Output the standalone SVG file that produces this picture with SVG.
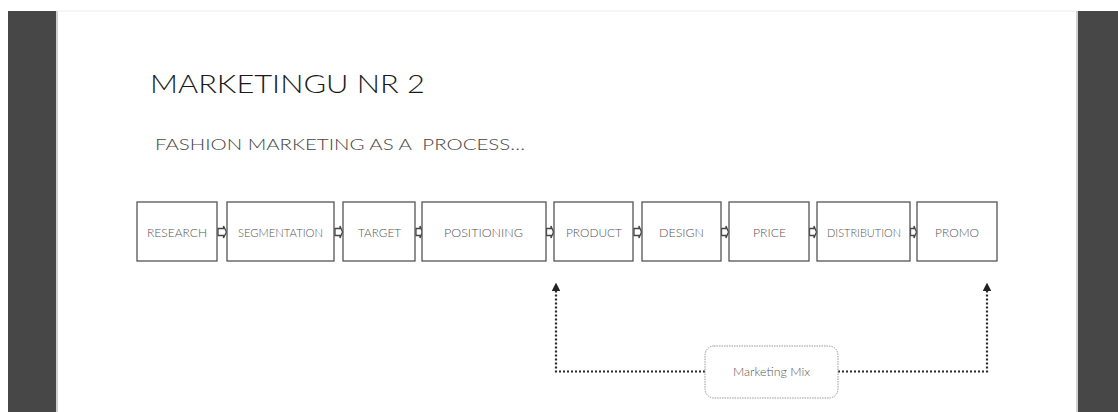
<svg xmlns="http://www.w3.org/2000/svg" width="1118" height="412" viewBox="0 0 1118 412">
<defs>
<style>
.bar{fill:#474747}
.box{fill:#fff;stroke:#555;stroke-width:1.3}
.lbl{font-family:"Lato","Open Sans","Liberation Sans",sans-serif;font-size:12px;font-weight:300;fill:#555;text-anchor:middle}
.ba{fill:#fff;stroke:#444;stroke-width:1.3;stroke-linejoin:miter}
.dot{fill:none;stroke:#2a2a2a;stroke-width:2.2;stroke-dasharray:2 2}
.mix{fill:#fff;stroke:#999;stroke-width:1;stroke-dasharray:1.5 1}
</style>
<marker id="ah" viewBox="0 0 10 10" refX="5" refY="5" markerWidth="4" markerHeight="4" orient="auto-start-reverse">
<path d="M0,0 L10,5 L0,10 Z" fill="#222"/>
</marker>
</defs>
<rect width="1118" height="412" fill="#fff"/>
<rect class="bar" x="8" y="11" width="48" height="401"/>
<rect x="56" y="11" width="2" height="401" fill="#d0d0d0"/>
<rect class="bar" x="1078" y="11" width="40" height="401"/>
<rect x="1076" y="11" width="2" height="401" fill="#d0d0d0"/>
<rect x="58" y="10.5" width="1018" height="1" fill="#eeeeee"/>

<text x="150" y="93" font-family="Lato,'Open Sans','Liberation Sans',sans-serif" font-size="26" font-weight="300" fill="#1a1a1a" textLength="275" lengthAdjust="spacingAndGlyphs">MARKETINGU NR 2</text>
<text x="155" y="150" font-family="Lato,'Open Sans','Liberation Sans',sans-serif" font-size="16.5" font-weight="300" fill="#444" textLength="370" lengthAdjust="spacingAndGlyphs" style="white-space:pre">FASHION MARKETING AS A  PROCESS…</text>

<g id="connectors">
<path class="ba" d="M218,228.5 H223.5 V226 L226.5,232 L223.5,238 V235.5 H218 Z"/>
<path class="ba" d="M335,228.5 H340 V226 L342.5,232 L340,238 V235.5 H335 Z"/>
<path class="ba" d="M416,228.5 H420 V226 L422.5,232 L420,238 V235.5 H416 Z"/>
<path class="ba" d="M546.5,228.5 H551 V226 L553.5,232 L551,238 V235.5 H546.5 Z"/>
<path class="ba" d="M634,228.5 H639 V226 L641.5,232 L639,238 V235.5 H634 Z"/>
<path class="ba" d="M721.5,228.5 H726 V226 L728.5,232 L726,238 V235.5 H721.5 Z"/>
<path class="ba" d="M809.5,228.5 H814 V226 L816.5,232 L814,238 V235.5 H809.5 Z"/>
<path class="ba" d="M910.5,228.5 H914 V226 L916.5,232 L914,238 V235.5 H910.5 Z"/>
<path class="dot" d="M705,371.5 H556 V287" marker-end="url(#ah)"/>
<path class="dot" d="M838,371.5 H987 V287" marker-end="url(#ah)"/>
</g>

<g id="n-research"><rect class="box" x="137" y="202" width="80" height="59"/><text class="lbl" x="177" y="236.5" textLength="60" lengthAdjust="spacingAndGlyphs">RESEARCH</text></g>
<g id="n-segmentation"><rect class="box" x="227" y="202" width="107" height="59"/><text class="lbl" x="280.5" y="236.5" textLength="85" lengthAdjust="spacingAndGlyphs">SEGMENTATION</text></g>
<g id="n-target"><rect class="box" x="343" y="202" width="72" height="59"/><text class="lbl" x="379.5" y="236.5" textLength="43" lengthAdjust="spacingAndGlyphs">TARGET</text></g>
<g id="n-positioning"><rect class="box" x="422" y="202" width="124" height="59"/><text class="lbl" x="483.5" y="236.5" textLength="79" lengthAdjust="spacingAndGlyphs">POSITIONING</text></g>
<g id="n-product"><rect class="box" x="554" y="202" width="79" height="59"/><text class="lbl" x="594" y="236.5" textLength="56" lengthAdjust="spacingAndGlyphs">PRODUCT</text></g>
<g id="n-design"><rect class="box" x="642" y="202" width="79" height="59"/><text class="lbl" x="681.5" y="236.5" textLength="45" lengthAdjust="spacingAndGlyphs">DESIGN</text></g>
<g id="n-price"><rect class="box" x="729" y="202" width="80" height="59"/><text class="lbl" x="769.5" y="236.5" textLength="33" lengthAdjust="spacingAndGlyphs">PRICE</text></g>
<g id="n-distribution"><rect class="box" x="817" y="202" width="93" height="59"/><text class="lbl" x="864" y="236.5" textLength="74" lengthAdjust="spacingAndGlyphs">DISTRIBUTION</text></g>
<g id="n-promo"><rect class="box" x="917" y="202" width="80" height="59"/><text class="lbl" x="957" y="236.5" textLength="44" lengthAdjust="spacingAndGlyphs">PROMO</text></g>

<g id="n-marketing-mix"><rect class="mix" x="705" y="346" width="133" height="52" rx="9"/><text class="lbl" x="771.5" y="376" font-size="11" fill="#555" textLength="77" lengthAdjust="spacingAndGlyphs">Marketing Mix</text></g>
</svg>
